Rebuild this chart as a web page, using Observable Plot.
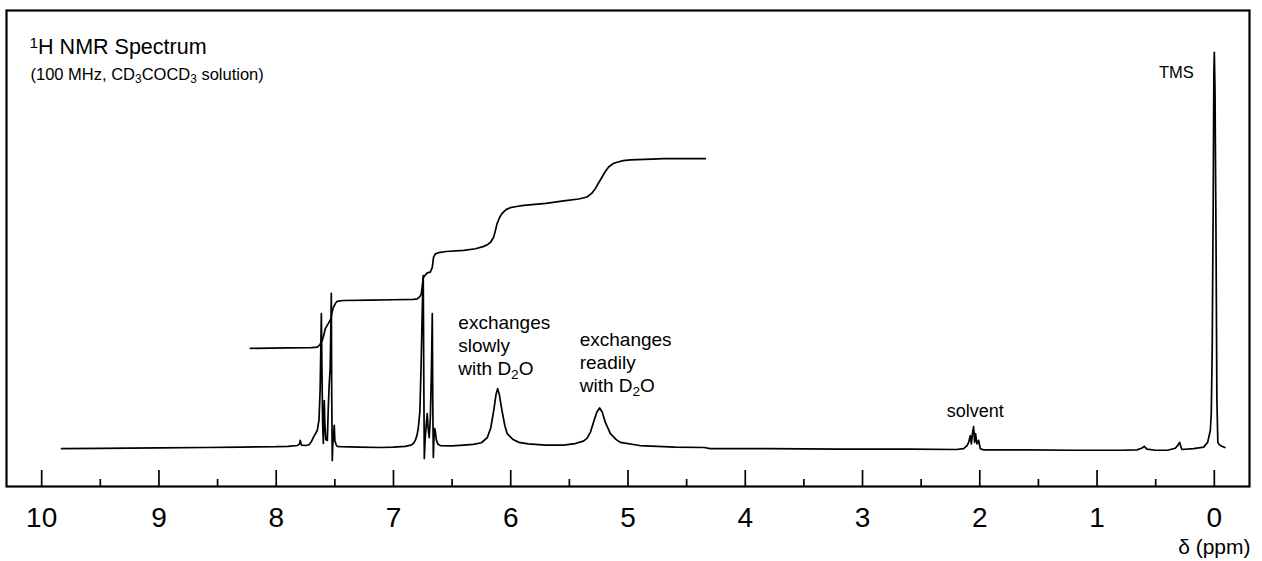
<!DOCTYPE html>
<html>
<head>
<meta charset="utf-8">
<script src="https://cdn.jsdelivr.net/npm/d3@7"></script>
<script src="https://cdn.jsdelivr.net/npm/@observablehq/plot@0.6"></script>
<style>
  html, body { margin: 0; padding: 0; background: #fff; }
  #chart { width: 1262px; height: 561px; }
  #chart svg { display: block; }
</style>
</head>
<body>
<div id="chart"></div>
<script>
// ---- Spectrum trace (chemical shift in ppm, relative intensity; TMS = 100) ----
const spectrumPpm = [
  9.83, 9.50, 9.00, 8.60, 8.30, 8.00, 7.90, 7.82, 7.80, 7.795, 7.785, 7.75, 7.72, 7.70, 7.684, 7.665, 7.65,
  7.635, 7.625, 7.618, 7.615, 7.611, 7.604, 7.598, 7.594, 7.590, 7.585, 7.577, 7.564, 7.556, 7.548, 7.540,
  7.534, 7.530, 7.527, 7.522, 7.518, 7.512, 7.505, 7.500, 7.49, 7.48, 7.45, 7.30, 7.10, 7.00, 6.90, 6.85,
  6.83, 6.814, 6.800, 6.788, 6.775, 6.765, 6.752, 6.746, 6.742, 6.737, 6.730, 6.720, 6.712, 6.705, 6.695,
  6.685, 6.676, 6.669, 6.665, 6.660, 6.654, 6.648, 6.643, 6.635, 6.62, 6.60, 6.50, 6.40, 6.32, 6.25, 6.20,
  6.17, 6.145, 6.125, 6.112, 6.098, 6.075, 6.05, 6.03, 5.98, 5.93, 5.85, 5.70, 5.55, 5.45, 5.38, 5.35, 5.32,
  5.29, 5.265, 5.242, 5.22, 5.194, 5.15, 5.10, 5.066, 4.90, 4.60, 4.35, 4.30, 3.80, 3.20, 2.60, 2.20, 2.138,
  2.109, 2.095, 2.081, 2.072, 2.061, 2.053, 2.044, 2.036, 2.024, 2.010, 1.996, 1.967, 1.60, 1.20, 0.80, 0.66,
  0.62, 0.597, 0.575, 0.50, 0.40, 0.333, 0.310, 0.296, 0.285, 0.276, 0.176, 0.091, 0.057, 0.034, 0.026, 0.018,
  0.010, 0.004, 0.000, -0.006, -0.014, -0.022, -0.030, -0.040, -0.060, -0.090
];
const spectrumIntensity = [
  -0.3, -0.2, -0.1, 0.0, 0.1, 0.2, 0.3, 0.5, 1.0, 1.8, 0.6, 0.5, 0.7, 1.5, 2.5, 3.5, 4.3,
  7, 15, 28, 33.9, 22, 6, 1.0, 6, 11.9, 6, 2.0, 1.8, 10, 16, 20,
  30, 39.0, 15, -3.3, 0.5, 3, 5.6, 1.8, 0.8, 0.3, 0.2, 0.1, 0.0, 0.1, 0.3, 0.6,
  1.0, 1.8, 3.0, 5.0, 9, 20, 38, 43.5, 20, -2.8, 2, 6, 8.6, 5, 2.5,
  8, 20, 33.9, 12, -2.5, 3, 4.8, 4.0, 2, 0.8, 0.5, 0.4, 0.6, 0.8, 1.2, 2.5,
  5.0, 9.4, 13.5, 14.9, 13.5, 9.4, 5.5, 3.5, 2.0, 1.3, 0.9, 0.6, 0.6, 1.0, 1.6, 2.3, 3.9,
  6.8, 9.0, 10.0, 9.0, 6.4, 3.5, 2.0, 1.3, 0.5, 0.1, 0.0, -0.3, -0.3, -0.4, -0.4, -0.5, -0.3,
  0.5, 1.3, 3.0, 0.9, 3.9, 5.3, 1.3, 3.5, 0.9, 1.8, -0.3, -0.6, -0.6, -0.7, -0.7, -0.6,
  -0.2, 0.3, -0.4, -0.7, -0.7, -0.2, 0.6, 1.3, 0.2, -0.5, -0.3, 0.1, 1.3, 4.3, 8.6, 25,
  60, 95, 100, 90, 55, 12, 1.3, 0.8, 0.4, 0.0
];

// ---- Integral trace ----
const integralPpm = [
  8.221, 7.90, 7.70, 7.65, 7.63, 7.607, 7.59, 7.581, 7.555, 7.535, 7.525, 7.513, 7.495, 7.48, 7.428, 7.20,
  7.00, 6.83, 6.797, 6.775, 6.763, 6.750, 6.746, 6.730, 6.712, 6.686, 6.669, 6.658, 6.643, 6.615, 6.55, 6.40,
  6.30, 6.23, 6.20, 6.17, 6.146, 6.130, 6.117, 6.095, 6.075, 6.040, 6.004, 5.95, 5.890, 5.70, 5.549, 5.42,
  5.35, 5.31, 5.279, 5.250, 5.222, 5.195, 5.165, 5.13, 5.094, 5.04, 4.98, 4.80, 4.696, 4.341
];
const integralIntensity = [
  25.1, 25.2, 25.3, 25.4, 25.9, 27.1, 29.0, 30.1, 31.4, 32.5, 34.0, 35.4, 36.5, 37.0, 37.2, 37.3,
  37.4, 37.5, 37.6, 38.2, 38.8, 42.0, 43.0, 43.6, 44.2, 44.4, 45.6, 48.2, 49.0, 49.3, 49.6, 49.9,
  50.3, 50.9, 51.3, 52.0, 53.2, 55.0, 56.6, 58.2, 59.2, 60.2, 60.7, 61.0, 61.3, 61.8, 62.4, 62.9,
  63.4, 64.3, 65.5, 67.0, 68.4, 69.8, 71.0, 71.8, 72.2, 72.6, 72.8, 73.0, 73.1, 73.1
];

// ---- Axis ticks ----
const majorTicks = [0, 1, 2, 3, 4, 5, 6, 7, 8, 9, 10];
const minorTicks = [0.5, 1.5, 2.5, 3.5, 4.5, 5.5, 6.5, 7.5, 8.5, 9.5];
const tickLabels = ["0", "1", "2", "3", "4", "5", "6", "7", "8", "9", "10"];
const axisLabel = "δ (ppm)";

// ---- Texts ----
const titleText = "¹H NMR Spectrum";
const subtitleText = "(100 MHz, CD₃COCD₃ solution)";
const annotationText = ["exchanges\nslowly\nwith D₂O", "exchanges\nreadily\nwith D₂O", "solvent", "TMS"];
const annotationPpm = [6.447, 5.412, 2.038, 0.324];
const annotationIntensity = [34.0, 29.8, 10.9, 96.5];

const spectrum = spectrumPpm.map((p, i) => ({ppm: p, intensity: spectrumIntensity[i]}));
const integral = integralPpm.map((p, i) => ({ppm: p, intensity: integralIntensity[i]}));
const annotations = annotationText.map((t, i) => ({text: t, ppm: annotationPpm[i], intensity: annotationIntensity[i]}));

const W = 1262, H = 561, MT = 10, MB = 75, ML = 6, MR = 13;
const plotH = H - MT - MB;
const FONT = "'Liberation Sans', Arial, Helvetica, sans-serif";

const chart = Plot.plot({
  width: W,
  height: H,
  marginTop: MT,
  marginBottom: MB,
  marginLeft: ML,
  marginRight: MR,
  style: {fontFamily: FONT, background: "#fff", color: "#000", overflow: "visible"},
  x: {domain: [10.3, -0.3]},
  y: {domain: [-9.87, 110.6], axis: null},
  marks: [
    Plot.frame({stroke: "#000", strokeWidth: 2.2}),
    Plot.ruleX(majorTicks, {x: d => d, insetTop: plotH - 16, stroke: "#000", strokeWidth: 1.7}),
    Plot.ruleX(minorTicks, {x: d => d, insetTop: plotH - 7, stroke: "#000", strokeWidth: 1.7}),
    Plot.axisX(majorTicks, {tickSize: 0, tickPadding: 21, fontSize: 28, tickFormat: d => tickLabels[majorTicks.indexOf(d)], label: null, fill: "#000"}),
    Plot.text([axisLabel], {frameAnchor: "bottom-right", dx: 1, dy: 61, textAnchor: "end", lineAnchor: "middle", fontSize: 21, fill: "#000"}),
    Plot.line(spectrum, {x: "ppm", y: "intensity", stroke: "#000", strokeWidth: 1.7, strokeLinejoin: "round"}),
    Plot.line(integral, {x: "ppm", y: "intensity", stroke: "#000", strokeWidth: 1.7, strokeLinejoin: "round"}),
    Plot.text(annotations.slice(0, 2), {x: "ppm", y: "intensity", text: "text", textAnchor: "start", lineAnchor: "top", fontSize: 19, lineHeight: 1.2, fill: "#000"}),
    Plot.text(annotations.slice(2, 3), {x: "ppm", y: "intensity", text: "text", textAnchor: "middle", lineAnchor: "top", fontSize: 18, fill: "#000"}),
    Plot.text(annotations.slice(3, 4), {x: "ppm", y: "intensity", text: "text", textAnchor: "middle", lineAnchor: "top", fontSize: 16.5, fill: "#000"}),
    Plot.text([titleText], {frameAnchor: "top-left", dx: 23, dy: 28, textAnchor: "start", lineAnchor: "top", fontSize: 21.5, fill: "#000"}),
    Plot.text([subtitleText], {frameAnchor: "top-left", dx: 24, dy: 58, textAnchor: "start", lineAnchor: "top", fontSize: 16.5, fill: "#000"})
  ]
});

// Render sub/superscript characters as shifted, smaller tspans
const SUB = {"₀":"0","₁":"1","₂":"2","₃":"3","₄":"4","₅":"5","₆":"6","₇":"7","₈":"8","₉":"9"};
const SUP = {"¹":"1","²":"2","³":"3"};
function applyScripts(root) {
  const walker = document.createTreeWalker(root, NodeFilter.SHOW_TEXT);
  const nodes = [];
  while (walker.nextNode()) nodes.push(walker.currentNode);
  for (const node of nodes) {
    const s = node.nodeValue;
    if (!/[₀-₉¹²³]/.test(s)) continue;
    const frag = document.createDocumentFragment();
    let buf = "";
    for (const ch of s) {
      if (SUB[ch] || SUP[ch]) {
        if (buf) { frag.appendChild(document.createTextNode(buf)); buf = ""; }
        const t = document.createElementNS("http://www.w3.org/2000/svg", "tspan");
        t.setAttribute("baseline-shift", SUB[ch] ? "-28%" : "38%");
        t.setAttribute("style", "font-size:0.72em");
        t.textContent = SUB[ch] || SUP[ch];
        frag.appendChild(t);
      } else buf += ch;
    }
    if (buf) frag.appendChild(document.createTextNode(buf));
    node.parentNode.replaceChild(frag, node);
  }
}
applyScripts(chart);
document.getElementById("chart").appendChild(chart);
</script>
</body>
</html>
